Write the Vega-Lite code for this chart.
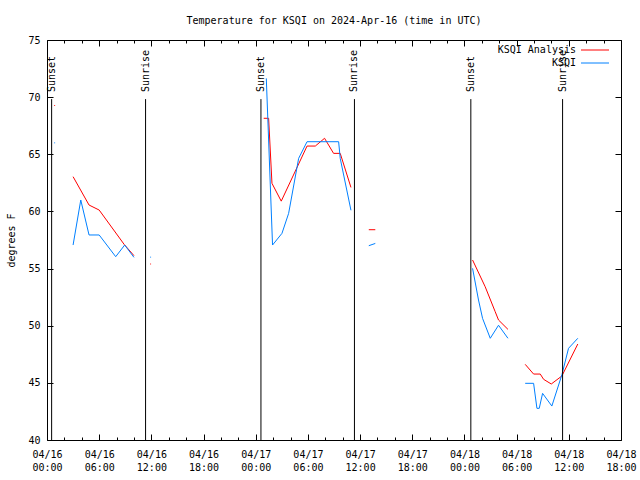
{
  "$schema": "https://vega.github.io/schema/vega-lite/v6.json",
  "width": 574,
  "height": 400,
  "autosize": {"type": "none"},
  "padding": {"left": 47, "top": 40, "right": 19, "bottom": 40},
  "background": "white",
  "config": {
    "font": "DejaVu Sans Mono",
    "view": {"stroke": "black", "strokeWidth": 1},
    "axis": {"labelFont": "DejaVu Sans Mono", "labelFontSize": 10, "labelColor": "black", "titleFont": "DejaVu Sans Mono", "titleFontSize": 10, "titleFontWeight": "normal", "titleColor": "black", "domain": false, "grid": false, "tickColor": "black"},
    "title": {"font": "DejaVu Sans Mono", "fontSize": 10, "fontWeight": "normal", "color": "black"}
  },
  "title": {"text": "Temperature for KSQI on 2024-Apr-16 (time in UTC)", "offset": 9},
  "datasets": {
    "temps": [
      {"t": "2024-04-16T00:50:00Z", "s": "KSQI Analysis", "v": 69.27},
      {"t": "2024-04-16T00:56:00Z", "s": "KSQI Analysis", "v": 69.27},
      {"t": "2024-04-16T02:00:00Z", "s": "KSQI Analysis", "v": null},
      {"t": "2024-04-16T03:00:00Z", "s": "KSQI Analysis", "v": 63.04},
      {"t": "2024-04-16T04:50:00Z", "s": "KSQI Analysis", "v": 60.56},
      {"t": "2024-04-16T06:00:00Z", "s": "KSQI Analysis", "v": 60.12},
      {"t": "2024-04-16T08:52:00Z", "s": "KSQI Analysis", "v": 57.12},
      {"t": "2024-04-16T10:00:00Z", "s": "KSQI Analysis", "v": 56.13},
      {"t": "2024-04-16T11:00:00Z", "s": "KSQI Analysis", "v": null},
      {"t": "2024-04-16T11:52:00Z", "s": "KSQI Analysis", "v": 55.4},
      {"t": "2024-04-16T11:58:00Z", "s": "KSQI Analysis", "v": 55.4},
      {"t": "2024-04-16T12:30:00Z", "s": "KSQI Analysis", "v": null},
      {"t": "2024-04-17T00:55:00Z", "s": "KSQI Analysis", "v": 68.15},
      {"t": "2024-04-17T01:29:00Z", "s": "KSQI Analysis", "v": 68.15},
      {"t": "2024-04-17T01:52:00Z", "s": "KSQI Analysis", "v": 62.46},
      {"t": "2024-04-17T02:56:00Z", "s": "KSQI Analysis", "v": 60.9},
      {"t": "2024-04-17T05:54:00Z", "s": "KSQI Analysis", "v": 65.72},
      {"t": "2024-04-17T06:51:00Z", "s": "KSQI Analysis", "v": 65.72},
      {"t": "2024-04-17T07:55:00Z", "s": "KSQI Analysis", "v": 66.4},
      {"t": "2024-04-17T08:57:00Z", "s": "KSQI Analysis", "v": 65.08},
      {"t": "2024-04-17T09:43:00Z", "s": "KSQI Analysis", "v": 65.08},
      {"t": "2024-04-17T10:57:00Z", "s": "KSQI Analysis", "v": 62.1},
      {"t": "2024-04-17T12:00:00Z", "s": "KSQI Analysis", "v": null},
      {"t": "2024-04-17T13:00:00Z", "s": "KSQI Analysis", "v": 58.4},
      {"t": "2024-04-17T13:45:00Z", "s": "KSQI Analysis", "v": 58.4},
      {"t": "2024-04-17T20:00:00Z", "s": "KSQI Analysis", "v": null},
      {"t": "2024-04-18T00:56:00Z", "s": "KSQI Analysis", "v": 55.75},
      {"t": "2024-04-18T02:23:00Z", "s": "KSQI Analysis", "v": 53.41},
      {"t": "2024-04-18T03:32:00Z", "s": "KSQI Analysis", "v": 51.23},
      {"t": "2024-04-18T03:55:00Z", "s": "KSQI Analysis", "v": 50.5},
      {"t": "2024-04-18T05:00:00Z", "s": "KSQI Analysis", "v": 49.68},
      {"t": "2024-04-18T06:00:00Z", "s": "KSQI Analysis", "v": null},
      {"t": "2024-04-18T06:59:00Z", "s": "KSQI Analysis", "v": 46.62},
      {"t": "2024-04-18T07:57:00Z", "s": "KSQI Analysis", "v": 45.77},
      {"t": "2024-04-18T08:43:00Z", "s": "KSQI Analysis", "v": 45.77},
      {"t": "2024-04-18T09:06:00Z", "s": "KSQI Analysis", "v": 45.31},
      {"t": "2024-04-18T09:59:00Z", "s": "KSQI Analysis", "v": 44.9},
      {"t": "2024-04-18T11:12:00Z", "s": "KSQI Analysis", "v": 45.6},
      {"t": "2024-04-18T13:02:00Z", "s": "KSQI Analysis", "v": 48.4},
      {"t": "2024-04-16T00:50:00Z", "s": "KSQI", "v": 66.0},
      {"t": "2024-04-16T00:56:00Z", "s": "KSQI", "v": 66.0},
      {"t": "2024-04-16T02:00:00Z", "s": "KSQI", "v": null},
      {"t": "2024-04-16T03:00:00Z", "s": "KSQI", "v": 57.06},
      {"t": "2024-04-16T03:53:00Z", "s": "KSQI", "v": 61.0},
      {"t": "2024-04-16T04:50:00Z", "s": "KSQI", "v": 57.94},
      {"t": "2024-04-16T06:00:00Z", "s": "KSQI", "v": 57.94},
      {"t": "2024-04-16T07:54:00Z", "s": "KSQI", "v": 56.04},
      {"t": "2024-04-16T08:56:00Z", "s": "KSQI", "v": 57.06},
      {"t": "2024-04-16T10:00:00Z", "s": "KSQI", "v": 55.98},
      {"t": "2024-04-16T11:00:00Z", "s": "KSQI", "v": null},
      {"t": "2024-04-16T11:52:00Z", "s": "KSQI", "v": 56.0},
      {"t": "2024-04-16T11:58:00Z", "s": "KSQI", "v": 56.0},
      {"t": "2024-04-16T12:30:00Z", "s": "KSQI", "v": null},
      {"t": "2024-04-17T01:13:00Z", "s": "KSQI", "v": 71.64},
      {"t": "2024-04-17T01:56:00Z", "s": "KSQI", "v": 57.06},
      {"t": "2024-04-17T03:01:00Z", "s": "KSQI", "v": 58.08},
      {"t": "2024-04-17T03:47:00Z", "s": "KSQI", "v": 59.83},
      {"t": "2024-04-17T04:56:00Z", "s": "KSQI", "v": 64.64},
      {"t": "2024-04-17T05:54:00Z", "s": "KSQI", "v": 66.1},
      {"t": "2024-04-17T09:32:00Z", "s": "KSQI", "v": 66.1},
      {"t": "2024-04-17T09:43:00Z", "s": "KSQI", "v": 64.64},
      {"t": "2024-04-17T10:57:00Z", "s": "KSQI", "v": 60.1},
      {"t": "2024-04-17T12:00:00Z", "s": "KSQI", "v": null},
      {"t": "2024-04-17T13:00:00Z", "s": "KSQI", "v": 57.0},
      {"t": "2024-04-17T13:45:00Z", "s": "KSQI", "v": 57.2},
      {"t": "2024-04-17T20:00:00Z", "s": "KSQI", "v": null},
      {"t": "2024-04-18T00:56:00Z", "s": "KSQI", "v": 55.02},
      {"t": "2024-04-18T01:37:00Z", "s": "KSQI", "v": 52.25},
      {"t": "2024-04-18T02:05:00Z", "s": "KSQI", "v": 50.64},
      {"t": "2024-04-18T02:58:00Z", "s": "KSQI", "v": 48.9},
      {"t": "2024-04-18T03:55:00Z", "s": "KSQI", "v": 50.04},
      {"t": "2024-04-18T05:00:00Z", "s": "KSQI", "v": 48.9},
      {"t": "2024-04-18T06:00:00Z", "s": "KSQI", "v": null},
      {"t": "2024-04-18T06:59:00Z", "s": "KSQI", "v": 44.96},
      {"t": "2024-04-18T07:57:00Z", "s": "KSQI", "v": 44.96},
      {"t": "2024-04-18T08:20:00Z", "s": "KSQI", "v": 42.77},
      {"t": "2024-04-18T08:36:00Z", "s": "KSQI", "v": 42.77},
      {"t": "2024-04-18T08:59:00Z", "s": "KSQI", "v": 44.08},
      {"t": "2024-04-18T10:03:00Z", "s": "KSQI", "v": 42.97},
      {"t": "2024-04-18T11:12:00Z", "s": "KSQI", "v": 45.7},
      {"t": "2024-04-18T11:58:00Z", "s": "KSQI", "v": 48.02},
      {"t": "2024-04-18T13:02:00Z", "s": "KSQI", "v": 48.9}
    ],
    "sun": [
      {"t": "2024-04-16T00:32:00Z", "label": "Sunset"},
      {"t": "2024-04-16T11:20:00Z", "label": "Sunrise"},
      {"t": "2024-04-17T00:36:00Z", "label": "Sunset"},
      {"t": "2024-04-17T11:21:00Z", "label": "Sunrise"},
      {"t": "2024-04-18T00:44:00Z", "label": "Sunset"},
      {"t": "2024-04-18T11:17:00Z", "label": "Sunrise"}
    ]
  },
  "layer": [
    {
      "data": {"name": "temps"},
      "mark": {"type": "line", "strokeWidth": 1, "clip": true},
      "encoding": {
        "x": {
          "field": "t", "type": "temporal",
          "scale": {"type": "utc", "domain": [1713225600000, 1713463200000], "nice": false},
          "axis": {
            "orient": "bottom", "title": null,
            "values": [1713225600000, 1713232800000, 1713240000000, 1713247200000, 1713254400000, 1713261600000, 1713268800000, 1713276000000, 1713283200000, 1713290400000, 1713297600000, 1713304800000, 1713312000000, 1713319200000, 1713326400000, 1713333600000, 1713340800000, 1713348000000, 1713355200000, 1713362400000, 1713369600000, 1713376800000, 1713384000000, 1713391200000, 1713398400000, 1713405600000, 1713412800000, 1713420000000, 1713427200000, 1713434400000, 1713441600000, 1713448800000, 1713456000000, 1713463200000],
            "tickSize": -6,
            "tickDash": {"condition": {"test": "utchours(datum.value) % 6 === 0", "value": [6, 0]}, "value": [3, 10]},
            "labelExpr": "utchours(datum.value) % 6 === 0 ? [utcFormat(datum.value, '%m/%d'), utcFormat(datum.value, '%H:%M')] : ''",
            "labelOverlap": false, "labelFlush": false, "labelBound": false,
            "labelPadding": 15, "labelLineHeight": 13, "labelAngle": 0
          }
        },
        "y": {
          "field": "v", "type": "quantitative",
          "scale": {"domain": [40, 75], "nice": false, "zero": false},
          "axis": {"orient": "left", "title": "degrees F", "values": [40, 45, 50, 55, 60, 65, 70, 75], "tickSize": -6, "labelPadding": 13, "titlePadding": 11}
        },
        "color": {
          "field": "s", "type": "nominal",
          "scale": {"domain": ["KSQI Analysis", "KSQI"], "range": ["#ff0000", "#0080ff"]},
          "legend": {
            "orient": "none", "legendX": 543, "legendY": 5, "title": null,
            "symbolType": "M-7,0H7", "symbolSize": 16, "symbolStrokeWidth": 1, "symbolFillColor": "transparent",
            "labelAlign": "right", "labelOffset": -24,
            "labelFont": "DejaVu Sans Mono", "labelFontSize": 10, "labelColor": "black",
            "padding": 0, "rowPadding": 3
          }
        }
      }
    },
    {
      "data": {"name": "sun"},
      "mark": {"type": "rule", "color": "black", "strokeWidth": 1},
      "encoding": {
        "x": {
          "field": "t", "type": "temporal",
          "axis": {
            "orient": "top", "title": null, "labels": false,
            "values": [1713225600000, 1713232800000, 1713240000000, 1713247200000, 1713254400000, 1713261600000, 1713268800000, 1713276000000, 1713283200000, 1713290400000, 1713297600000, 1713304800000, 1713312000000, 1713319200000, 1713326400000, 1713333600000, 1713340800000, 1713348000000, 1713355200000, 1713362400000, 1713369600000, 1713376800000, 1713384000000, 1713391200000, 1713398400000, 1713405600000, 1713412800000, 1713420000000, 1713427200000, 1713434400000, 1713441600000, 1713448800000, 1713456000000, 1713463200000],
            "tickSize": -6,
            "tickDash": {"condition": {"test": "utchours(datum.value) % 6 === 0", "value": [6, 0]}, "value": [3, 10]}
          }
        },
        "y": {"datum": 40, "type": "quantitative", "axis": {"orient": "right", "title": null, "labels": false, "values": [40, 45, 50, 55, 60, 65, 70, 75], "tickSize": -6}},
        "y2": {"datum": 69.83}
      }
    },
    {
      "data": {"name": "sun"},
      "mark": {"type": "text", "angle": 270, "align": "left", "baseline": "middle", "font": "DejaVu Sans Mono", "fontSize": 10, "color": "black"},
      "encoding": {
        "x": {"field": "t", "type": "temporal", "axis": null},
        "y": {"datum": 70.45, "type": "quantitative", "axis": null},
        "text": {"field": "label"}
      }
    }
  ],
  "resolve": {"axis": {"x": "independent", "y": "independent"}}
}
